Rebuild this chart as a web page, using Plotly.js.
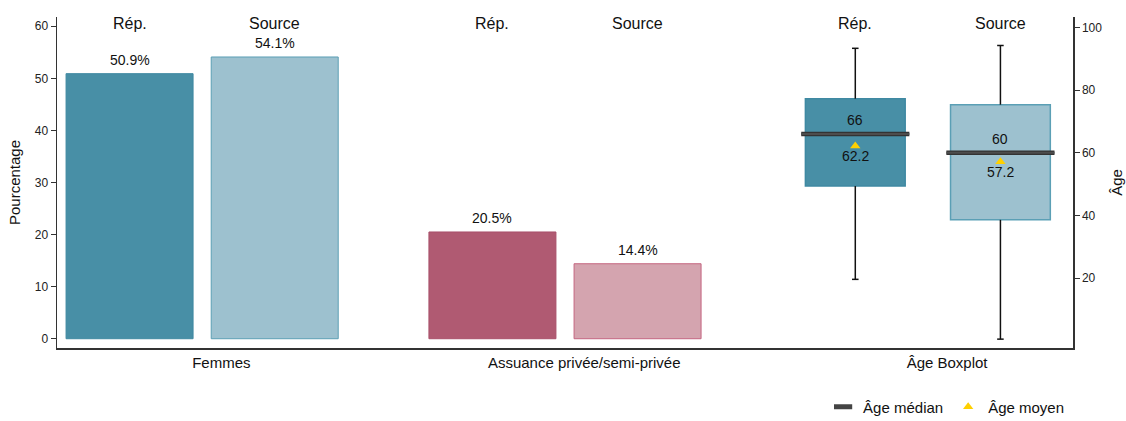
<!DOCTYPE html>
<html><head><meta charset="utf-8">
<script src="https://cdn.plot.ly/plotly-3.0.1.min.js"></script>
<style>html,body{margin:0;padding:0;background:#fff}#chart{width:1126px;height:421px}</style>
</head><body><div id="chart"></div>
<script>
// ---- data ----
const groups = ['Femmes', 'Assuance privée/semi-privée', 'Âge Boxplot'];
const seriesNames = ['Rép.', 'Source'];
const femmesPct = [50.9, 54.1];
const assurancePct = [20.5, 14.4];
const ageMedian = [66, 60];
const ageMean = [62.2, 57.2];
const ageQ1 = [49.4, 38.6];
const ageQ3 = [77.3, 75.4];
const ageLow = [19.6, 0.5];
const ageHigh = [93.4, 94.3];
const pctTicks = [0, 10, 20, 30, 40, 50, 60];
const ageTicks = [20, 40, 60, 80, 100];

// ---- style ----
const FONT = 'Liberation Sans, Arial, sans-serif';
const OFF = 0.2, BAR_W = 0.35, BOX_W = 0.275, MED_HALF = 0.149, CAP = 0.009;
const fillTeal = ['#488fa6', '#9dc1cf'], lineTeal = ['#3f89a2', '#5b9fb5'];
const fillRose = ['#b05a72', '#d4a4af'], lineRose = ['#a9506a', '#c46580'];
const pos = (g, s) => g + (s === 0 ? -OFF : OFF);

// percentage bars
const barX = [], barY = [], barFill = [], barLine = [];
[femmesPct, assurancePct].forEach((vals, g) => {
  vals.forEach((v, s) => {
    barX.push(pos(g, s)); barY.push(v);
    barFill.push(g === 0 ? fillTeal[s] : fillRose[s]);
    barLine.push(g === 0 ? lineTeal[s] : lineRose[s]);
  });
});
const traces = [];
traces.push({type: 'bar', x: barX, y: barY, width: BAR_W, showlegend: false,
  marker: {color: barFill, line: {color: barLine, width: 1}}});

// box bodies (q1..q3) on age axis
const bxX = ageQ1.map((_, s) => pos(2, s));
traces.push({type: 'bar', x: bxX, base: ageQ1, y: ageQ3.map((q, s) => q - ageQ1[s]),
  width: BOX_W, yaxis: 'y2', showlegend: false,
  marker: {color: fillTeal, line: {color: lineTeal, width: 1.5}}});

// whiskers
const wx = [], wy = [];
bxX.forEach((c, s) => {
  wx.push(c, c, null, c - CAP, c + CAP, null, c, c, null, c - CAP, c + CAP, null);
  wy.push(ageQ3[s], ageHigh[s], null, ageHigh[s], ageHigh[s], null,
          ageLow[s], ageQ1[s], null, ageLow[s], ageLow[s], null);
});
traces.push({type: 'scatter', mode: 'lines', x: wx, y: wy, yaxis: 'y2', showlegend: false,
  line: {color: '#111', width: 1.5}});

// median lines (dark outline + grey core)
const mx = [], my = [];
bxX.forEach((c, s) => { mx.push(c - MED_HALF, c + MED_HALF, null); my.push(ageMedian[s], ageMedian[s], null); });
traces.push({type: 'scatter', mode: 'lines', x: mx, y: my, yaxis: 'y2', showlegend: false,
  line: {color: '#333', width: 4.5}});
traces.push({type: 'scatter', mode: 'lines', x: mx, y: my, yaxis: 'y2', showlegend: false,
  line: {color: '#4d4d4d', width: 2}});

// legend proxy for median
traces.push({type: 'scatter', mode: 'markers', x: [null], y: [null], yaxis: 'y2', name: 'Âge médian',
  marker: {symbol: 'line-ew', size: 13, color: '#444', line: {color: '#444', width: 5}}});

// mean markers
traces.push({type: 'scatter', mode: 'markers', x: bxX, y: ageMean, yaxis: 'y2', name: 'Âge moyen',
  marker: {symbol: 'triangle-up', size: 9, color: '#ffd000'}});

// annotations
const ann = [];
groups.forEach((g, gi) => seriesNames.forEach((sn, s) => {
  ann.push({x: pos(gi, s), y: 1, xref: 'x', yref: 'paper', text: sn, showarrow: false,
    yanchor: 'middle', yshift: -6, font: {size: 16, color: '#111', family: FONT}});
}));
barX.forEach((x, i) => ann.push({x: x, y: barY[i], xref: 'x', yref: 'y', text: barY[i].toFixed(1) + '%',
  showarrow: false, yanchor: 'bottom', yshift: 4, font: {size: 14, color: '#111', family: FONT}}));
bxX.forEach((x, s) => {
  ann.push({x: x, y: ageMedian[s], xref: 'x', yref: 'y2', text: String(ageMedian[s]), showarrow: false,
    yanchor: 'bottom', yshift: 4, font: {size: 14, color: '#111', family: FONT}});
  ann.push({x: x, y: ageMean[s], xref: 'x', yref: 'y2', text: ageMean[s].toFixed(1), showarrow: false,
    yanchor: 'top', yshift: 0, font: {size: 14, color: '#111', family: FONT}});
});

const axisBase = {showline: true, linecolor: '#333', linewidth: 1.5, showgrid: false, zeroline: false,
  ticks: 'outside', ticklen: 5, tickcolor: '#333', tickwidth: 1, automargin: false,
  tickfont: {size: 12, color: '#222', family: FONT}};

const layout = {
  width: 1126, height: 421,
  margin: {l: 57, r: 53, t: 17, b: 73},
  paper_bgcolor: '#fff', plot_bgcolor: '#fff',
  font: {family: FONT, color: '#111'},
  barmode: 'overlay',
  hovermode: false,
  xaxis: {range: [-0.4, 2.4], tickvals: groups.map((_, i) => i + 0.053), ticktext: groups, automargin: false,
    showline: true, linecolor: '#333', linewidth: 1.5, showgrid: false, zeroline: false, ticks: '',
    tickfont: {size: 15, color: '#111', family: FONT}},
  yaxis: Object.assign({}, axisBase, {range: [-1.78, 61.78], tickvals: pctTicks,
    title: {text: 'Pourcentage', font: {size: 15, color: '#111', family: FONT}, standoff: 10}}),
  yaxis2: Object.assign({}, axisBase, {range: [-2.33, 103.4], tickvals: ageTicks, overlaying: 'y', side: 'right',
    title: {text: 'Âge', font: {size: 15, color: '#111', family: FONT}, standoff: 10}}),
  legend: {orientation: 'h', xref: 'container', yref: 'container', x: 0.731, xanchor: 'left',
    y: 1 - 407 / 421, yanchor: 'middle',
    font: {size: 15, color: '#111', family: FONT}, bgcolor: 'rgba(0,0,0,0)'},
  annotations: ann
};
Plotly.newPlot('chart', traces, layout, {displayModeBar: false, staticPlot: true});
</script></body></html>
